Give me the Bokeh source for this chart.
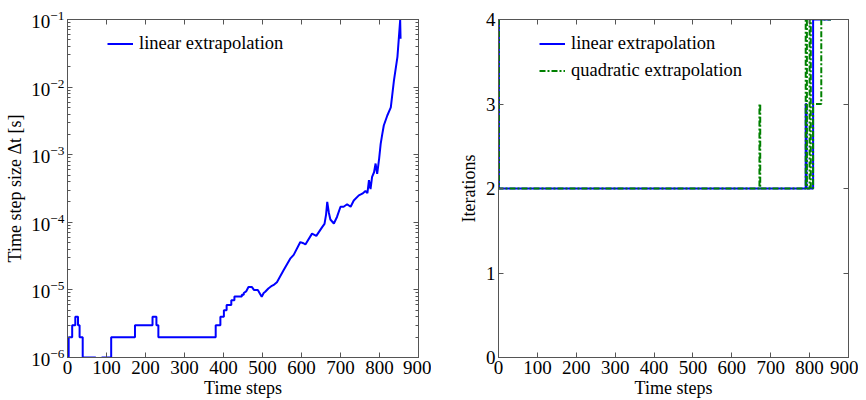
from bokeh.plotting import figure
from bokeh.layouts import row
from bokeh.models import (LogAxis, LinearAxis, FixedTicker, LogTickFormatter, Range1d, Legend)
from bokeh.embed import file_html
from bokeh.resources import INLINE

# ---------------- data ----------------
# left: time step size (linear extrapolation)
dt_steps = [0, 3, 3, 12, 12, 20, 20, 27, 27, 31, 31, 39, 39, 72, 72, 88, 88, 112, 112, 173, 173,
            218, 218, 228, 228, 233, 233, 380, 380, 392, 392, 401, 401, 408, 408, 420, 420, 428,
            428, 447, 447, 452, 452, 458, 464, 473, 478, 488, 495, 498, 503, 507, 515, 524, 530,
            537, 554, 571, 580, 597, 605, 610, 627, 638, 653, 659, 663, 666, 670, 674, 683, 691,
            700, 708, 717, 726, 734, 747, 756, 764, 769, 773, 777, 781, 786, 790, 794, 799, 803,
            807, 811, 820, 829, 837, 846, 853, 854]
dt_values = [1e-6, 1e-6, 2e-6, 2e-6, 3e-6, 3e-6, 4e-6, 4e-6, 3e-6, 3e-6, 2e-6, 2e-6, 1e-6, 1e-6,
             5e-7, 5e-7, 1e-6, 1e-6, 2e-6, 2e-6, 3e-6, 3e-6, 4e-6, 4e-6, 3e-6, 3e-6, 2e-6, 2e-6,
             3e-6, 3e-6, 4e-6, 4e-6, 5e-6, 5e-6, 6e-6, 6e-6, 7e-6, 7e-6, 8e-6, 8e-6, 8.5e-6,
             8.5e-6, 9e-6, 9.5e-6, 1.1e-5, 1.1e-5, 1.0e-5, 1.0e-5, 8.5e-6, 7.9e-6, 9e-6, 9.4e-6,
             1.05e-5, 1.15e-5, 1.2e-5, 1.3e-5, 1.95e-5, 2.9e-5, 3.3e-5, 5.1e-5, 4.9e-5, 4.7e-5,
             6.8e-5, 6.3e-5, 8.5e-5, 9.5e-5, 1.3e-4, 2.0e-4, 1.4e-4, 1.1e-4, 9.6e-5, 1.2e-4,
             1.7e-4, 1.7e-4, 1.85e-4, 1.7e-4, 2.1e-4, 2.5e-4, 2.65e-4, 2.9e-4, 2.7e-4, 4.2e-4,
             3.1e-4, 4.7e-4, 5.5e-4, 7.4e-4, 5.2e-4, 8.7e-4, 1.45e-3, 2.0e-3, 2.7e-3, 3.8e-3,
             5.0e-3, 1.25e-2, 2.8e-2, 9.8e-2, 5.2e-2]

# right: iterations (step-wise, value holds until next step)
lin_steps = [0, 1, 790, 792, 809, 855]
lin_iters = [4, 2, 3, 2, 4, 4]
quad_steps = [0, 1, 671, 673, 790, 793, 800, 803, 809, 830, 855]
quad_iters = [4, 2, 3, 2, 4, 2, 4, 2, 3, 4, 4]

x_ticks = [0, 100, 200, 300, 400, 500, 600, 700, 800, 900]
log_major = [1e-6, 1e-5, 1e-4, 1e-3, 1e-2, 1e-1]
iter_ticks = [0, 1, 2, 3, 4]

FONT = "Liberation Serif"
FS_TICK = "19px"
FS_LABEL = "18px"
FS_LEG = "18.5px"
AX = "#555555"
BLUE = "#0000ff"
GREEN = "#008000"

log_minor = [m * d for d in log_major[:-1] for m in range(2, 10)]


def style_axis(ax, labels=True, minor=False):
    ax.axis_line_color = AX
    ax.major_tick_line_color = AX
    ax.major_tick_in = 5
    ax.major_tick_out = 0
    if minor:
        ax.minor_tick_line_color = AX
        ax.minor_tick_in = 3
        ax.minor_tick_out = 0
    else:
        ax.minor_tick_line_color = None
    ax.major_label_text_font = FONT
    ax.major_label_text_color = "black"
    ax.axis_label_text_font = FONT
    ax.axis_label_text_font_size = FS_LABEL
    ax.axis_label_text_font_style = "normal"
    ax.axis_label_text_color = "black"
    if labels:
        ax.major_label_text_font_size = FS_TICK
        ax.major_label_standoff = 3
        ax.axis_label_standoff = 1
    else:
        ax.major_label_text_font_size = "1px"
        ax.major_label_text_color = None
        ax.major_label_standoff = 0


# ---------------- left figure ----------------
p1 = figure(width=431, height=400, y_axis_type="log", output_backend="svg",
            toolbar_location=None, x_range=Range1d(0, 900), y_range=Range1d(1e-6, 1e-1),
            min_border_left=67, min_border_right=13, min_border_top=19, min_border_bottom=43)
p1.grid.visible = False
p1.outline_line_color = AX
p1.background_fill_color = "white"
p1.border_fill_color = "white"

p1.xaxis.ticker = FixedTicker(ticks=x_ticks)
p1.xaxis.axis_label = "Time steps"
style_axis(p1.xaxis[0])
p1.yaxis.ticker = FixedTicker(ticks=log_major, minor_ticks=log_minor)
p1.yaxis.formatter = LogTickFormatter()
p1.yaxis.axis_label = "Time step size \u0394t [s]"
style_axis(p1.yaxis[0], minor=True)
p1.yaxis.axis_label_standoff = 3

top1 = LinearAxis(ticker=FixedTicker(ticks=x_ticks))
style_axis(top1, labels=False)
p1.add_layout(top1, "above")
right1 = LogAxis(ticker=FixedTicker(ticks=log_major, minor_ticks=log_minor))
style_axis(right1, labels=False, minor=True)
p1.add_layout(right1, "right")

r1 = p1.line(dt_steps, dt_values, line_color=BLUE, line_width=2)

leg1 = Legend(items=[("linear extrapolation", [r1])], location=(40, 303))
p1.add_layout(leg1)

# ---------------- right figure ----------------
p2 = figure(width=427, height=400, output_backend="svg", toolbar_location=None,
            x_range=Range1d(0, 900), y_range=Range1d(0, 4),
            min_border_left=67, min_border_right=10, min_border_top=16, min_border_bottom=43)
p2.grid.visible = False
p2.outline_line_color = AX
p2.background_fill_color = "white"
p2.border_fill_color = "white"

p2.xaxis.ticker = FixedTicker(ticks=x_ticks)
p2.xaxis.axis_label = "Time steps"
style_axis(p2.xaxis[0])
p2.yaxis.ticker = FixedTicker(ticks=iter_ticks)
p2.yaxis.axis_label = "Iterations"
style_axis(p2.yaxis[0])
p2.yaxis.axis_label_standoff = 4

top2 = LinearAxis(ticker=FixedTicker(ticks=x_ticks))
style_axis(top2, labels=False)
p2.add_layout(top2, "above")
right2 = LinearAxis(ticker=FixedTicker(ticks=iter_ticks))
style_axis(right2, labels=False)
p2.add_layout(right2, "right")

r_lin = p2.step(lin_steps, lin_iters, mode="after", line_color=BLUE, line_width=2)
r_quad = p2.step(quad_steps, quad_iters, mode="after", line_color=GREEN, line_width=2,
                 line_dash="6 2 2 2")

leg2 = Legend(items=[("linear extrapolation", [r_lin]), ("quadratic extrapolation", [r_quad])],
              location=(41, 276))
p2.add_layout(leg2)

for leg in (leg1, leg2):
    leg.border_line_color = None
    leg.background_fill_alpha = 0
    leg.padding = 0
    leg.margin = 0
    leg.spacing = 6
    leg.glyph_width = 26
    leg.glyph_height = 21
    leg.label_height = 21
    leg.label_standoff = 6
    leg.label_text_font = FONT
    leg.label_text_font_size = FS_LEG
    leg.label_text_color = "black"

layout = row(p1, p2)
open("out.html", "w").write(file_html(layout, INLINE))
